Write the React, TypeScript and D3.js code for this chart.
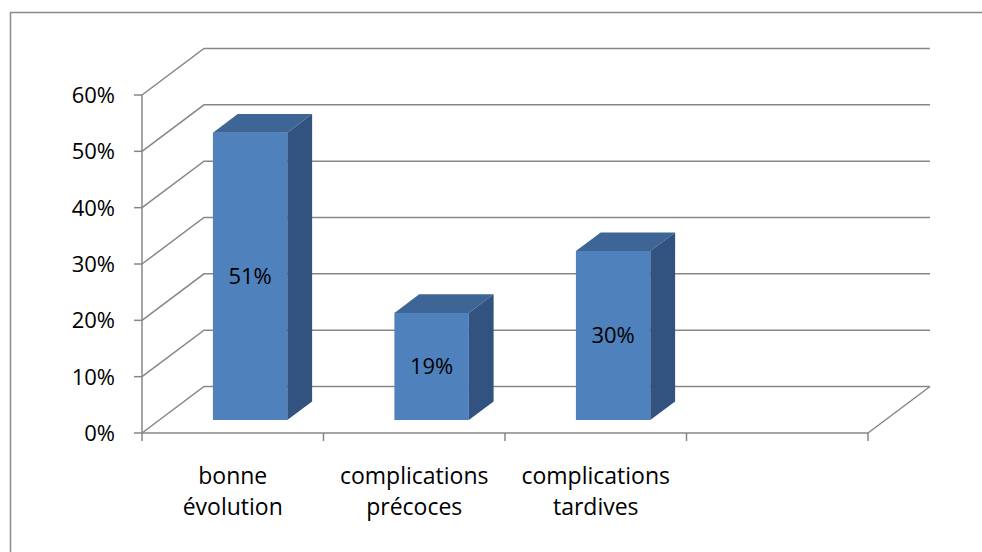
import React from "react";
import * as d3 from "d3";

const categories = ["bonne évolution", "complications précoces", "complications tardives", ""];
const values: (number | null)[] = [0.51, 0.19, 0.3, null];
const valueLabels = ["51%", "19%", "30%", ""];
const yTicks = [0, 0.1, 0.2, 0.3, 0.4, 0.5, 0.6];

const W = 982;
const H = 552;
const FONT = "'Open Sans', sans-serif";

const App = () => {
  // front plane of the 3D box
  const x = d3.scaleBand().domain(categories.map((c, i) => String(i))).range([142, 868]).paddingInner(0).paddingOuter(0);
  const y = d3.scaleLinear().domain([0, 0.6]).range([433, 95]);
  // depth offset to the back wall
  const depth = { dx: 62, dy: -46.5 };
  const barFrac = 0.41;
  const f1 = 0.28; // bar front in depth
  const f2 = 0.68; // bar back in depth
  const grid = "#878787";

  const bars = values.map((v, i) => {
    if (v == null) return null;
    const bw = x.bandwidth() * barFrac;
    const cx = (x(String(i)) as number) + x.bandwidth() / 2;
    const ox = f1 * depth.dx;
    const oy = f1 * depth.dy;
    const bx = (f2 - f1) * depth.dx;
    const by = (f2 - f1) * depth.dy;
    const left = cx - bw / 2 + ox;
    const right = cx + bw / 2 + ox;
    const top = y(v) + oy;
    const bottom = y(0) + oy;
    return (
      <g key={i}>
        <rect x={left} y={top} width={bw} height={bottom - top} fill="#4F81BD" />
        <path
          d={`M${left},${top}L${left + bx},${top + by}L${right + bx},${top + by}L${right},${top}Z`}
          fill="#3D6595"
        />
        <path
          d={`M${right},${top}L${right + bx},${top + by}L${right + bx},${bottom + by}L${right},${bottom}Z`}
          fill="#32537F"
        />
        <text
          x={(left + right) / 2}
          y={(top + bottom) / 2}
          dy="0.36em"
          textAnchor="middle"
          fontFamily={FONT}
          fontSize={22}
          fill="#000"
        >
          {valueLabels[i]}
        </text>
      </g>
    );
  });

  const x0 = x.range()[0];
  const x1 = x.range()[1];

  return (
    <svg width={W} height={H} style={{ position: "absolute", left: 0, top: 0, background: "#fff" }}>
      <rect x={10.5} y={12.5} width={1000} height={600} fill="#fff" stroke="#8a8a8a" strokeWidth={1.5} />
      {/* side wall diagonals and back wall gridlines */}
      {yTicks.map((t) => (
        <g key={t} stroke={grid} strokeWidth={1.5} fill="none">
          <path d={`M${x0},${y(t)}L${x0 + depth.dx},${y(t) + depth.dy}L${x1 + depth.dx},${y(t) + depth.dy}`} />
          <line x1={x0 - 8} x2={x0} y1={y(t)} y2={y(t)} />
        </g>
      ))}
      {/* floor */}
      <g stroke={grid} strokeWidth={1.5} fill="none">
        <line x1={x0} x2={x1} y1={y(0)} y2={y(0)} />
        <line x1={x1} x2={x1 + depth.dx} y1={y(0)} y2={y(0) + depth.dy} />
        <line x1={x0} x2={x0} y1={y(0.6)} y2={y(0) + 8} />
        {categories.map((c, i) => (
          <line key={i} x1={(x(String(i)) as number) + x.bandwidth()} x2={(x(String(i)) as number) + x.bandwidth()} y1={y(0)} y2={y(0) + 8} />
        ))}
      </g>
      {yTicks.map((t) => (
        <text key={t} x={115} y={y(t)} dy="0.36em" textAnchor="end" fontFamily={FONT} fontSize={22} fill="#000">
          {d3.format(".0%")(t)}
        </text>
      ))}
      {bars}
      {categories.map((c, i) =>
        c.split(" ").map((line, j) => (
          <text
            key={`${i}-${j}`}
            x={(x(String(i)) as number) + x.bandwidth() / 2}
            y={484 + j * 31}
            textAnchor="middle"
            fontFamily={FONT}
            fontSize={23}
            fill="#000"
          >
            {line}
          </text>
        ))
      )}
    </svg>
  );
};

export default App;
